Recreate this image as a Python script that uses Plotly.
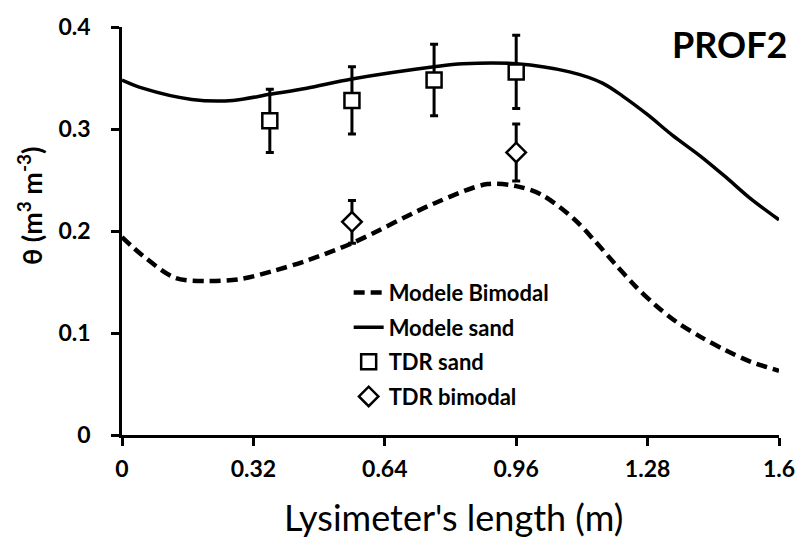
import plotly.graph_objects as go

# ---- data ----
x_sand_model = [0, 0.05, 0.17, 0.27, 0.36, 0.45, 0.56, 0.76, 0.83, 0.96, 1.09, 1.17, 1.22, 1.28, 1.34, 1.41, 1.47, 1.53, 1.6]
y_sand_model = [0.348, 0.340, 0.329, 0.328, 0.334, 0.340, 0.349, 0.361, 0.364, 0.364, 0.356, 0.345, 0.332, 0.314, 0.294, 0.273, 0.253, 0.232, 0.211]

x_bimodal_model = [0, 0.05, 0.13, 0.21, 0.29, 0.37, 0.45, 0.56, 0.76, 0.89, 0.96, 1.02, 1.10, 1.15, 1.20, 1.25, 1.30, 1.35, 1.41, 1.47, 1.53, 1.6]
y_bimodal_model = [0.194, 0.176, 0.154, 0.151, 0.153, 0.161, 0.171, 0.188, 0.227, 0.246, 0.244, 0.236, 0.212, 0.191, 0.168, 0.146, 0.127, 0.111, 0.096, 0.083, 0.072, 0.063]

x_tdr_sand = [0.36, 0.56, 0.76, 0.96]
y_tdr_sand = [0.308, 0.328, 0.348, 0.356]
err_tdr_sand = [0.031, 0.033, 0.035, 0.036]

x_tdr_bimodal = [0.56, 0.96]
y_tdr_bimodal = [0.209, 0.277]
err_tdr_bimodal = [0.021, 0.028]

x_tickvals = [0, 0.32, 0.64, 0.96, 1.28, 1.6]
x_ticktext = ["0", "0.32", "0.64", "0.96", "1.28", "1.6"]
y_tickvals = [0, 0.1, 0.2, 0.3, 0.4]
y_ticktext = ["0", "0.1", "0.2", "0.3", "0.4"]

FONT = "Lato"

fig = go.Figure()
fig.add_trace(go.Scatter(
    x=x_bimodal_model, y=y_bimodal_model, mode="lines", name="Modele Bimodal",
    line=dict(color="black", width=4.5, dash="11px,6px", shape="spline", smoothing=0.9),
    legendgroup="a"))
fig.add_trace(go.Scatter(
    x=x_sand_model, y=y_sand_model, mode="lines", name="Modele sand",
    line=dict(color="black", width=3.5, shape="spline", smoothing=0.9),
    legendgroup="b"))
fig.add_trace(go.Scatter(
    x=x_tdr_sand, y=y_tdr_sand, mode="markers", name="TDR sand",
    marker=dict(symbol="square", size=15, color="white", line=dict(color="black", width=2.5)),
    error_y=dict(type="data", array=err_tdr_sand, color="black", thickness=3, width=4),
    legendgroup="c"))
fig.add_trace(go.Scatter(
    x=x_tdr_bimodal, y=y_tdr_bimodal, mode="markers", name="TDR bimodal",
    marker=dict(symbol="diamond", size=15, color="white", line=dict(color="black", width=2.5)),
    error_y=dict(type="data", array=err_tdr_bimodal, color="black", thickness=3, width=4),
    legendgroup="d"))

fig.update_layout(
    width=807, height=540,
    margin=dict(l=122, r=20, t=25, b=105),
    paper_bgcolor="white", plot_bgcolor="white",
    font=dict(family=FONT, color="black"),
    showlegend=True,
    legend=dict(x=0.345, y=0.40, xanchor="left", yanchor="top",
                bgcolor="rgba(0,0,0,0)", borderwidth=0,
                font=dict(family=FONT, size=22, color="black", weight="bold"),
                tracegroupgap=3),
    xaxis=dict(range=[0, 1.6], tickvals=x_tickvals, ticktext=x_ticktext,
               showgrid=False, zeroline=False, showline=True, linecolor="black", linewidth=2.5,
               ticks="outside", ticklen=8, tickwidth=2.5, tickcolor="black",
               tickfont=dict(family=FONT, size=23, color="black", weight="bold"),
               ticklabelstandoff=4),
    yaxis=dict(range=[0, 0.4], tickvals=y_tickvals, ticktext=y_ticktext,
               showgrid=False, zeroline=False, showline=True, linecolor="black", linewidth=2.5,
               ticks="outside", ticklen=8, tickwidth=2.5, tickcolor="black",
               tickfont=dict(family=FONT, size=23, color="black", weight="bold"),
               ticklabelstandoff=16),
    annotations=[
        dict(text="θ (m<sup>3</sup> m<sup>-3</sup>)", xref="paper", yref="paper",
             x=-0.141, y=0.562, xanchor="center", yanchor="middle", textangle=-90,
             showarrow=False, font=dict(family=FONT, size=27, color="black", weight="bold")),
        dict(text="Lysimeter's length (m)", xref="paper", yref="paper",
             x=0.504, y=-0.201, xanchor="center", yanchor="middle",
             showarrow=False, font=dict(family=FONT, size=36, color="black")),
        dict(text="PROF2", xref="paper", yref="paper",
             x=1.015, y=0.9594, xanchor="right", yanchor="middle",
             showarrow=False, font=dict(family=FONT, size=36, color="black", weight="bold")),
    ],
)

fig.write_html("out.html", config={"displayModeBar": False},
               post_script="document.body.style.margin='0px';document.body.style.overflow='hidden';")
